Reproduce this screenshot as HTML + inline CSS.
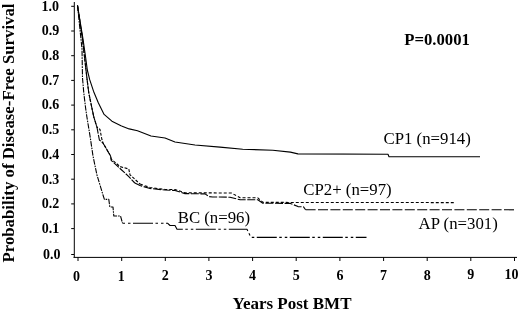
<!DOCTYPE html>
<html><head><meta charset="utf-8"><title>Disease-Free Survival</title>
<style>
html,body{margin:0;padding:0;background:#fff;}
svg{display:block;font-family:"Liberation Serif","Times New Roman",serif;fill:#000;}
.b{font-weight:bold;}
.ax line{stroke:#000;stroke-width:1;}
.cv polyline{fill:none;stroke:#000;stroke-width:1.1;stroke-linejoin:round;}
</style></head><body>
<svg width="520" height="311" viewBox="0 0 520 311">
<rect width="520" height="311" fill="#fff"/>
<g class="ax">
<line x1="74.3" x2="74.3" y1="2" y2="257.5" stroke-width="1.1"/>
<line x1="73.5" x2="517" y1="257.4" y2="257.4"/>
<line stroke="#444" x1="71.2" x2="74" y1="254.5" y2="254.5"/><line stroke="#444" x1="71.2" x2="74" y1="228.6" y2="228.6"/><line stroke="#444" x1="71.2" x2="74" y1="203.9" y2="203.9"/><line stroke="#444" x1="71.2" x2="74" y1="179.2" y2="179.2"/><line stroke="#444" x1="71.2" x2="74" y1="154.5" y2="154.5"/><line stroke="#444" x1="71.2" x2="74" y1="129.8" y2="129.8"/><line stroke="#444" x1="71.2" x2="74" y1="105.1" y2="105.1"/><line stroke="#444" x1="71.2" x2="74" y1="80.4" y2="80.4"/><line stroke="#444" x1="71.2" x2="74" y1="55.7" y2="55.7"/><line stroke="#444" x1="71.2" x2="74" y1="31.0" y2="31.0"/><line stroke="#444" x1="71.2" x2="74" y1="6.3" y2="6.3"/>
<line x1="78.0" x2="78.0" y1="257.4" y2="261" stroke-width="1.3"/><line x1="121.7" x2="121.7" y1="257.4" y2="261" stroke-width="1.3"/><line x1="165.3" x2="165.3" y1="257.4" y2="261" stroke-width="1.3"/><line x1="208.9" x2="208.9" y1="257.4" y2="261" stroke-width="1.3"/><line x1="252.6" x2="252.6" y1="257.4" y2="261" stroke-width="1.3"/><line x1="296.2" x2="296.2" y1="257.4" y2="261" stroke-width="1.3"/><line x1="339.9" x2="339.9" y1="257.4" y2="261" stroke-width="1.3"/><line x1="383.6" x2="383.6" y1="257.4" y2="261" stroke-width="1.3"/><line x1="427.2" x2="427.2" y1="257.4" y2="261" stroke-width="1.3"/><line x1="470.8" x2="470.8" y1="257.4" y2="261" stroke-width="1.3"/><line x1="514.5" x2="514.5" y1="257.4" y2="261" stroke-width="1.3"/>
</g>
<g class="b" font-size="14"><text x="60.6" text-anchor="end" y="258.8">0.0</text><text x="59.2" text-anchor="end" y="232.9">0.1</text><text x="59.2" text-anchor="end" y="208.2">0.2</text><text x="59.2" text-anchor="end" y="183.5">0.3</text><text x="59.2" text-anchor="end" y="158.8">0.4</text><text x="59.2" text-anchor="end" y="134.1">0.5</text><text x="59.2" text-anchor="end" y="109.4">0.6</text><text x="59.2" text-anchor="end" y="84.7">0.7</text><text x="59.2" text-anchor="end" y="60.0">0.8</text><text x="59.2" text-anchor="end" y="35.3">0.9</text><text x="58.9" text-anchor="end" y="10.6">1.0</text></g>
<g class="b" font-size="14"><text x="76.6" y="280.6" text-anchor="middle">0</text><text x="121.3" y="280.5" text-anchor="middle">1</text><text x="165.3" y="280.3" text-anchor="middle">2</text><text x="208.9" y="280.2" text-anchor="middle">3</text><text x="252.6" y="280.1" text-anchor="middle">4</text><text x="296.2" y="280.0" text-anchor="middle">5</text><text x="339.9" y="279.8" text-anchor="middle">6</text><text x="383.6" y="279.7" text-anchor="middle">7</text><text x="427.2" y="279.6" text-anchor="middle">8</text><text x="470.8" y="279.4" text-anchor="middle">9</text><text x="511.6" y="279.3" text-anchor="middle">10</text></g>
<text class="b" font-size="16.8" text-anchor="middle" transform="translate(14,133) rotate(-90)">Probability of Disease-Free Survival</text>
<text class="b" font-size="17" x="232.5" y="309.2">Years Post BMT</text>
<text class="b" font-size="16.7" x="404.3" y="45.3">P=0.0001</text>
<g font-size="16.8">
<text x="383.5" y="143.7">CP1 (n=914)</text>
<text x="303.3" y="195.4">CP2+ (n=97)</text>
<text x="418.6" y="229.1">AP (n=301)</text>
<text x="177.7" y="222.9">BC (n=96)</text>
</g>
<g class="cv">
<polyline points="77.5,5.5 83.0,39.0 85.3,55.0 87.3,70.0 89.7,79.7 93.5,91.2 98.3,102.8 104.1,114.4 111.9,121.2 121.5,126.0" stroke-width="1.9"/>
<polyline points="121.5,126.0 129.2,128.9 137.5,130.8 151.0,136.0 165.0,138.0 175.0,142.0 195.0,145.0 220.0,147.1 242.7,149.2 272.8,150.2 290.4,152.1 297.9,153.9 388.0,154.2 389.0,156.8 480.0,156.8" stroke-width="1.3"/>
<polyline points="77.5,5.5 82.5,39.0 86.9,78.0 88.8,93.0 91.9,108.0 93.8,117.0 96.9,127.0 99.4,140.0 103.0,143.0 108.8,153.0 110.6,156.0 111.2,160.4 120.0,168.5 128.8,176.6 134.8,183.0" stroke-dasharray="7 1.2" stroke-width="1.9"/>
<polyline points="134.8,183.0 140.0,185.5 150.0,188.5 165.0,190.0 175.0,190.5 185.0,193.6 205.0,193.9 209.0,196.6 212.6,197.0 230.0,197.2 240.2,199.8 257.8,199.8 262.8,203.2 290.4,203.4 298.0,206.6 303.5,206.9 305.6,209.8" stroke-dasharray="8 1.6" stroke-width="1.5"/>
<polyline points="305.6,209.8 514.8,209.8" stroke-dasharray="10 2.4" stroke-width="1.2"/>
<polyline points="77.5,5.5 82.5,39.0 86.9,78.0 88.8,93.0 91.9,108.0 93.8,117.0 96.9,127.0 100.0,129.5 101.9,139.5 103.0,143.0 108.8,153.0 110.6,156.0 111.2,159.0 120.0,166.6 128.8,169.0 130.0,174.8 140.0,184.0" stroke-dasharray="3 1.5" stroke-width="1.5"/>
<polyline points="140.0,184.0 150.0,187.5 165.0,189.5 175.0,189.5 185.0,192.8 231.4,193.0 240.2,197.8 257.8,197.8 263.0,202.4 454.5,202.6" stroke-dasharray="3 2" stroke-width="1.3"/>
<polyline points="77.5,5.5 82.0,49.0 82.5,78.0 83.8,93.0 85.6,108.0 86.9,117.0 90.0,135.8 93.0,156.0 96.9,174.8 103.0,195.0 104.4,199.4 108.8,199.4 109.8,206.9 113.0,207.0 113.8,216.0 120.5,216.0 122.5,223.2" stroke-dasharray="5.5 1 1.6 1" stroke-width="1.9"/>
<polyline points="122.5,223.2 167.5,223.2 170.0,225.5 175.0,225.5 177.0,229.3 247.0,229.3 251.0,237.4 366.5,237.4" stroke-dasharray="2.5 3 2.5 2.5 20 2.5" stroke-width="1.2"/>
</g>
</svg>
</body></html>
